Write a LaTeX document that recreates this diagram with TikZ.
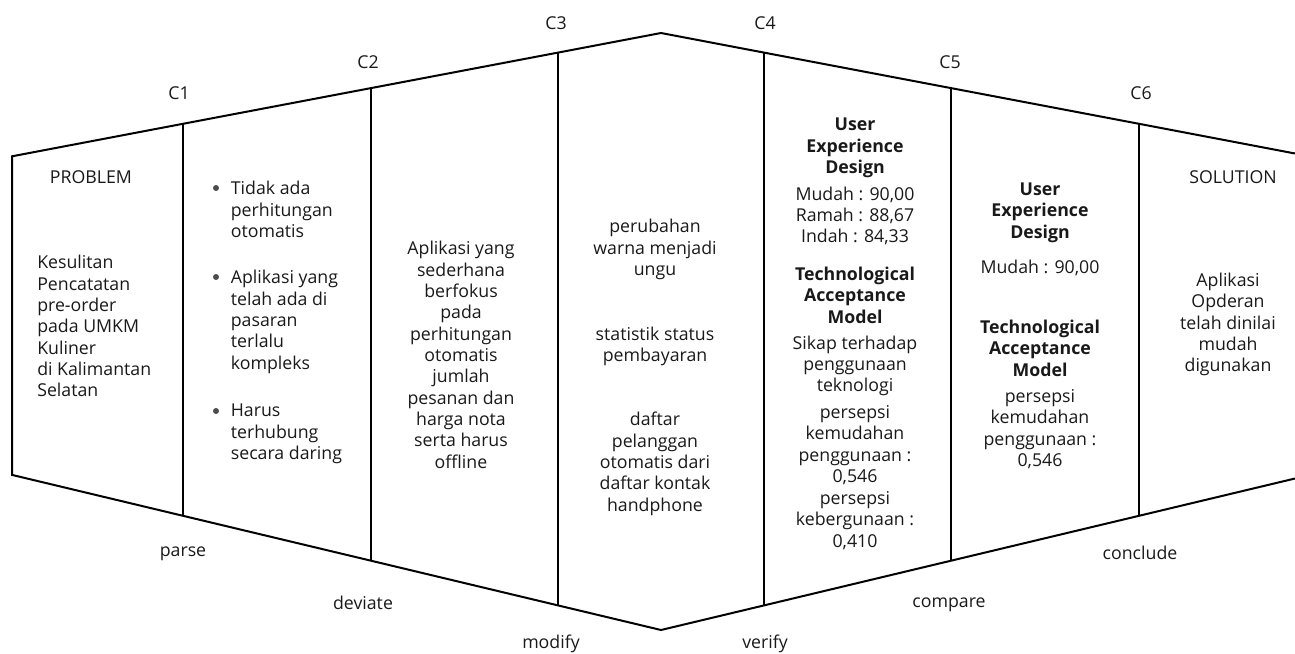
\documentclass[tikz,border=0pt]{standalone}
\usepackage{fontspec}
\setmainfont{Open Sans}
\usetikzlibrary{positioning}
\tikzset{
    frame/.style    ={line width=1.5pt, line join=miter},
    divider/.style  ={line width=1.5pt},
    steplabel/.style={inner sep=0pt},
    bodytext/.style ={inner sep=0pt, align=center, anchor=north},
    listtext/.style ={inner sep=0pt, align=left, anchor=north west},
    bulletdot/.style={circle, fill=black!70, inner sep=0pt, minimum size=4.5pt},
}

\begin{document}
\begin{tikzpicture}[x=0.75pt, y=-0.75pt, font=\fontsize{13.3}{16}\selectfont, text=black!90]
\useasboundingbox (0,0) rectangle (1295,653);
% corners of the outline
\coordinate (t0) at (12,156.3);   \coordinate (b0) at (12,474.9);
\coordinate (t1) at (183,123.8);  \coordinate (b1) at (183,515.8);
\coordinate (t2) at (371,88.1);   \coordinate (b2) at (371,560.7);
\coordinate (t3) at (558,52.6);   \coordinate (b3) at (558,605.4);
\coordinate (ta) at (661,33);     \coordinate (ba) at (661,630);
\coordinate (t4) at (764,52.6);   \coordinate (b4) at (764,605.4);
\coordinate (t5) at (951,88.1);   \coordinate (b5) at (951,560.7);
\coordinate (t6) at (1139,123.8); \coordinate (b6) at (1139,515.8);
\coordinate (tR) at (1295,153.5); \coordinate (bR) at (1295,478.5);

\draw[frame] (tR) -- (t6) -- (t5) -- (t4) -- (ta) -- (t3) -- (t2) -- (t1) -- (t0)
    -- (b0) -- (b1) -- (b2) -- (b3) -- (ba) -- (b4) -- (b5) -- (b6) -- (bR);
\foreach \i in {1,...,6} \draw[divider] (t\i) -- (b\i);

% stage labels
\node[steplabel] (c1) at (179,93) {C1};
\node[steplabel] (c2) at (368,62) {C2};
\node[steplabel] (c3) at (556,23) {C3};
\node[steplabel] (c4) at (765,23) {C4};
\node[steplabel] (c5) at (950,62) {C5};
\node[steplabel] (c6) at (1141,93) {C6};
\node[steplabel] (parse) at (183,553.5) {parse};
\node[steplabel] (deviate) at (363,602.5) {deviate};
\node[steplabel] (modify) at (551,644) {modify};
\node[steplabel] (verify) at (765,644) {verify};
\node[steplabel] (compare) at (949,604.5) {compare};
\node[steplabel] (conclude) at (1140,553) {conclude};

% panel texts
\node[steplabel] (problem) at (91,177) {PROBLEM};
\node[listtext] (prob) at (37,255) {Kesulitan\\Pencatatan\\pre-order\\pada UMKM\\Kuliner\\di Kalimantan\\Selatan};

\node[listtext] (it1) at (230.6,181) {Tidak ada\\perhitungan\\otomatis};
\node[listtext] (it2) at (230.6,270) {Aplikasi yang\\telah ada di\\pasaran\\terlalu\\kompleks};
\node[listtext] (it3) at (230.6,404) {Harus\\terhubung\\secara daring};
\node[bulletdot] (d1) at (216,188) {};
\node[bulletdot] (d2) at (216,277) {};
\node[bulletdot] (d3) at (216,411) {};

\node[bodytext] (idea) at (461,241) {Aplikasi yang\\sederhana\\berfokus\\pada\\perhitungan\\otomatis\\jumlah\\pesanan dan\\harga nota\\serta harus\\offline};

\node[bodytext] (mod1) at (655,219) {perubahan\\warna menjadi\\ungu};
\node[bodytext] (mod2) at (655,326.7) {statistik status\\pembayaran};
\node[bodytext] (mod3) at (655,412) {daftar\\pelanggan\\otomatis dari\\daftar kontak\\handphone};

\node[bodytext] (ver) at (855,118) {\textbf{User}\\\textbf{Experience}\\\textbf{Design}\\[4pt]Mudah : 90,00\\Ramah : 88,67\\Indah : 84,33\\[12.3pt]\textbf{Technological}\\\textbf{Acceptance}\\\textbf{Model}\\[3.5pt]Sikap terhadap\\penggunaan\\teknologi\\[3.75pt]persepsi\\kemudahan\\penggunaan :\\0,546\\[0.5pt]persepsi\\kebergunaan :\\0,410};

\node[bodytext] (cmp) at (1040,182.7) {\textbf{User}\\\textbf{Experience}\\\textbf{Design}\\[10.3pt]Mudah : 90,00\\[29pt]\textbf{Technological}\\\textbf{Acceptance}\\\textbf{Model}\\[3.75pt]persepsi\\kemudahan\\penggunaan :\\0,546};

\node[steplabel] (solution) at (1233,177) {SOLUTION};
\node[bodytext] (sol) at (1228,272.7) {Aplikasi\\Opderan\\telah dinilai\\mudah\\digunakan};
\end{tikzpicture}
\end{document}
